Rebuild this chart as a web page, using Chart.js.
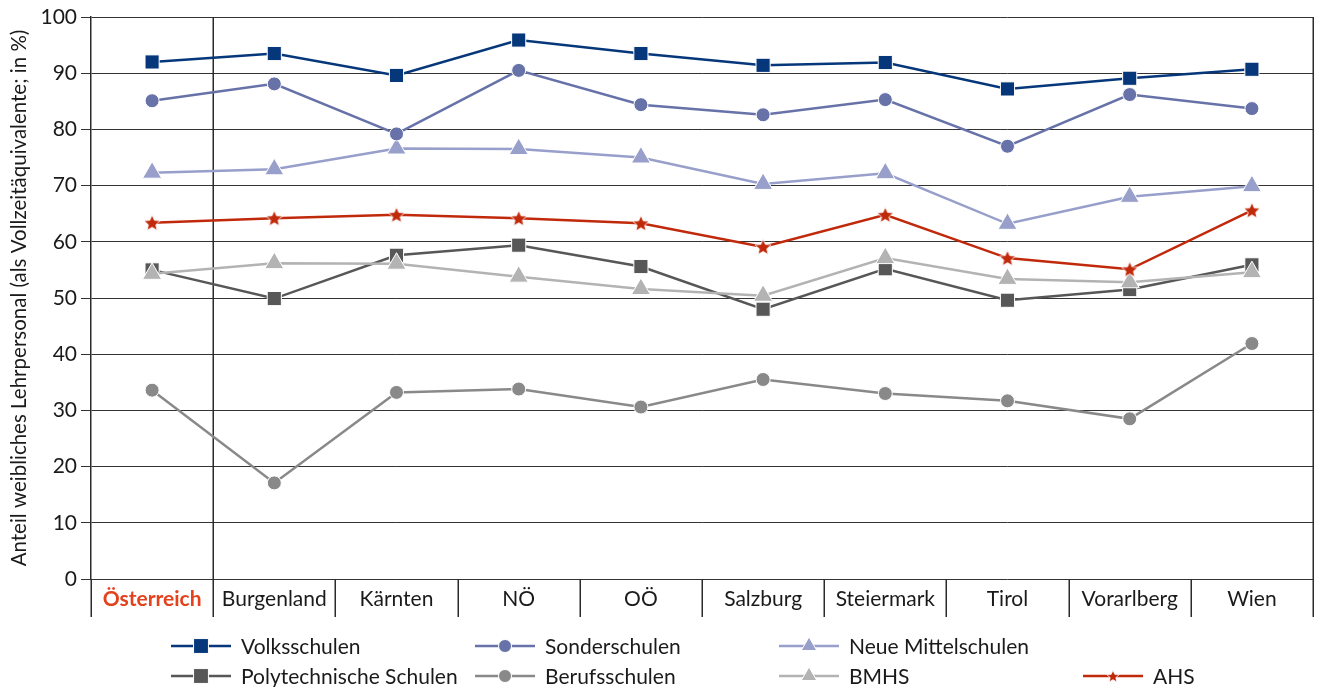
<!DOCTYPE html>
<html>
<head>
<meta charset="utf-8">
<script src="https://cdn.jsdelivr.net/npm/chart.js@4.4.0/dist/chart.umd.min.js"></script>
<style>
  html, body { margin: 0; padding: 0; background: #fff; }
  #wrap { width: 1325px; height: 687px; }
</style>
</head>
<body>
<div id="wrap"><canvas id="chart"></canvas></div>
<script>
const regions = ['Österreich', 'Burgenland', 'Kärnten', 'NÖ', 'OÖ', 'Salzburg', 'Steiermark', 'Tirol', 'Vorarlberg', 'Wien'];

// Anteil weibliches Lehrpersonal in %
const volksschulen   = [92.0, 93.5, 89.6, 95.9, 93.5, 91.4, 91.9, 87.2, 89.1, 90.7];
const sonderschulen  = [85.1, 88.1, 79.2, 90.5, 84.4, 82.6, 85.3, 77.0, 86.2, 83.7];
const neueMittel     = [72.3, 72.9, 76.6, 76.5, 75.0, 70.3, 72.2, 63.2, 68.0, 69.9];
const polytechnische = [55.0, 49.9, 57.6, 59.4, 55.6, 48.0, 55.2, 49.6, 51.5, 55.9];
const berufsschulen  = [33.6, 17.1, 33.2, 33.8, 30.6, 35.5, 33.0, 31.7, 28.5, 41.9];
const bmhs           = [54.3, 56.2, 56.1, 53.8, 51.6, 50.4, 57.1, 53.4, 52.8, 54.6];
const ahs            = [63.4, 64.2, 64.8, 64.2, 63.3, 59.1, 64.8, 57.1, 55.1, 65.6];

const yMin = 0, yMax = 100, yStep = 10;
const FONT = 'Lato, "Noto Sans", sans-serif';

// gefüllter Stern als Punktstil
function makeStar(color, size) {
  const c = document.createElement('canvas');
  c.width = size; c.height = size;
  const g = c.getContext('2d');
  const cx = size / 2, cy = size / 2 + 0.7, R = size / 2 - 0.5, r = R * 0.46;
  g.beginPath();
  for (let i = 0; i < 10; i++) {
    const a = -Math.PI / 2 + i * Math.PI / 5;
    const rr = i % 2 ? r : R;
    g.lineTo(cx + rr * Math.cos(a), cy + rr * Math.sin(a));
  }
  g.closePath();
  g.fillStyle = color;
  g.fill();
  g.strokeStyle = '#fff';
  g.lineWidth = 0.8;
  g.stroke();
  return c;
}

const series = [
  { label: 'Volksschulen', data: volksschulen, color: '#05377a', style: 'rect', r: 10, lr: 10.5, order: 0 },
  { label: 'Sonderschulen', data: sonderschulen, color: '#6672a8', style: 'circle', r: 7, lr: 6.5, order: 1 },
  { label: 'Neue Mittelschulen', data: neueMittel, color: '#979fca', style: 'triangle', r: 11, lr: 9, order: 2 },
  { label: 'Polytechnische Schulen', data: polytechnische, color: '#575757', style: 'rect', r: 10, lr: 10.5, order: 5 },
  { label: 'Berufsschulen', data: berufsschulen, color: '#898989', style: 'circle', r: 7, lr: 6.5, order: 4 },
  { label: 'BMHS', data: bmhs, color: '#b3b3b3', style: 'triangle', r: 11, lr: 9, order: 3 },
  { label: 'AHS', data: ahs, color: '#c1290b', style: makeStar('#c1290b', 18), lstyle: makeStar('#c1290b', 14), r: 9, lr: 7, order: 1.5 }
];

// Trennlinien unter der Achse, Linie nach Österreich, rechter Rahmen
const separators = {
  id: 'separators',
  beforeDatasetsDraw(chart) {
    const { ctx, chartArea } = chart;
    const n = regions.length;
    const w = (chartArea.right - chartArea.left) / n;
    ctx.save();
    ctx.strokeStyle = '#2b2b2b';
    ctx.lineWidth = 1.5;
    for (let i = 0; i <= n; i++) {
      const x = Math.round(chartArea.left + i * w) + 0.25;
      ctx.beginPath();
      ctx.moveTo(x, chartArea.bottom);
      ctx.lineTo(x, chartArea.bottom + 38);
      ctx.stroke();
    }
    [chartArea.left + w, chartArea.right].forEach(x0 => {
      const x = Math.round(x0) + 0.25;
      ctx.beginPath();
      ctx.moveTo(x, chartArea.top);
      ctx.lineTo(x, chartArea.bottom);
      ctx.stroke();
    });
    ctx.restore();
  }
};

// Legende: 3 Einträge oben, 4 unten
const legendRows = [[0, 1, 2], [3, 4, 5, 6]];
const legendCols = [171, 475, 779, 1083];
const legendY = [646, 676];

const customLegend = {
  id: 'customLegend',
  afterDraw(chart) {
    const ctx = chart.ctx;
    ctx.save();
    legendRows.forEach((row, ri) => {
      row.forEach((si, ci) => {
        const s = series[si];
        const x = legendCols[ci], y = legendY[ri];
        ctx.strokeStyle = s.color;
        ctx.lineWidth = 2.5;
        ctx.beginPath();
        ctx.moveTo(x, y);
        ctx.lineTo(x + 60, y);
        ctx.stroke();
        ctx.fillStyle = s.color;
        ctx.strokeStyle = '#fff';
        ctx.lineWidth = 1;
        Chart.helpers.drawPoint(ctx, { pointStyle: s.lstyle || s.style, radius: s.lr, rotation: 0, borderWidth: 1 }, x + 30, y);
        ctx.fillStyle = '#1a1a1a';
        ctx.font = '21px ' + FONT;
        ctx.textBaseline = 'middle';
        ctx.textAlign = 'left';
        ctx.fillText(s.label, x + 70, y + 1);
      });
    });
    ctx.restore();
  }
};

new Chart(document.getElementById('chart'), {
  type: 'line',
  data: {
    labels: regions,
    datasets: series.map(s => ({
      label: s.label,
      data: s.data,
      borderColor: s.color,
      backgroundColor: s.color,
      borderWidth: 2.5,
      pointStyle: s.style,
      pointRadius: s.r,
      pointHoverRadius: s.r,
      pointBackgroundColor: s.color,
      pointBorderColor: '#fff',
      pointBorderWidth: 1,
      tension: 0,
      order: s.order
    }))
  },
  options: {
    responsive: true,
    maintainAspectRatio: false,
    animation: false,
    layout: { padding: { top: 17, right: 2, bottom: 70, left: 0 } },
    plugins: {
      legend: { display: false },
      tooltip: { enabled: false }
    },
    scales: {
      x: {
        offset: true,
        grid: { display: false, drawTicks: false },
        border: { display: false },
        afterFit(scale) { scale.height = 38; },
        ticks: {
          padding: 8,
          maxRotation: 0,
          autoSkip: false,
          color: c => c.index === 0 ? '#e4411d' : '#1a1a1a',
          font: c => ({ family: FONT, size: 21, weight: c.index === 0 ? 'bold' : 'normal' })
        }
      },
      y: {
        min: yMin,
        max: yMax,
        afterFit(scale) { scale.width = 91; },
        grid: { color: '#333', lineWidth: 1, tickLength: 10 },
        border: { display: true, color: '#2b2b2b', width: 1.5 },
        ticks: {
          stepSize: yStep,
          padding: 4,
          color: '#1a1a1a',
          font: { family: FONT, size: 21 }
        },
        title: {
          display: true,
          text: 'Anteil weibliches Lehrpersonal (als Vollzeitäquivalente; in %)',
          color: '#1a1a1a',
          font: { family: FONT, size: 20.5 },
          padding: { top: 7, bottom: 0 }
        }
      }
    }
  },
  plugins: [separators, customLegend]
});
</script>
</body>
</html>
